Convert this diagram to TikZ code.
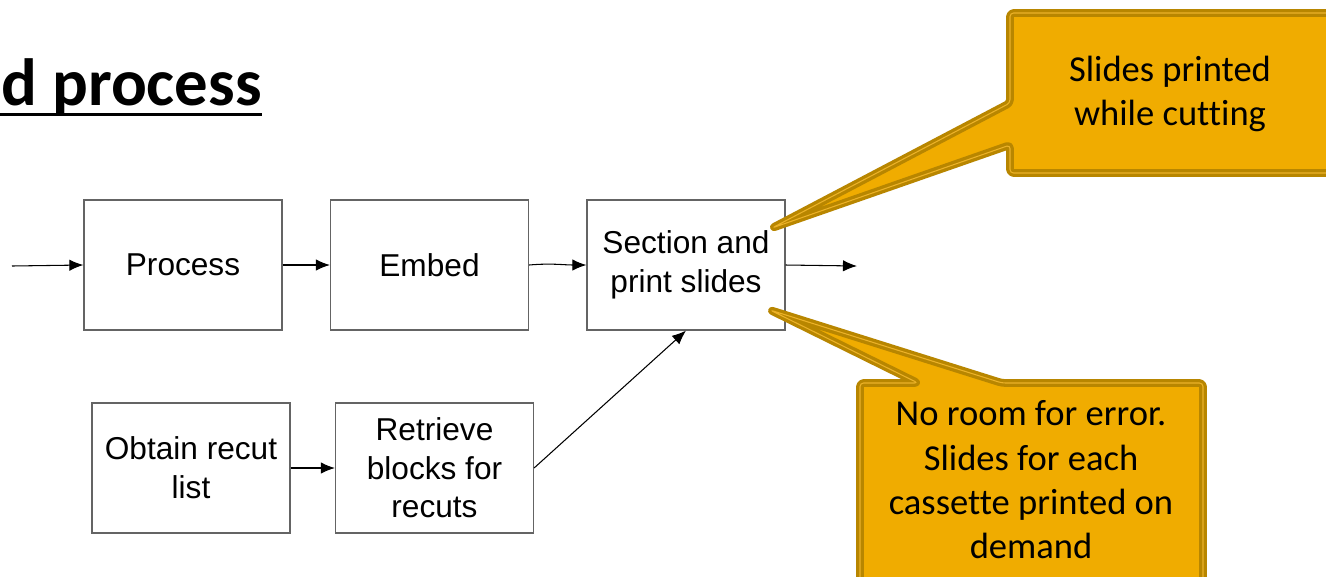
\documentclass[tikz,border=0pt]{standalone}
\usepackage{fontspec}
\setmainfont{Liberation Sans}
\newfontfamily\calib[Ligatures={NoCommon}]{Carlito}
\usetikzlibrary{arrows.meta}
\definecolor{gold}{RGB}{240,172,0}
\definecolor{goldedge}{RGB}{184,134,0}
\definecolor{goldline}{RGB}{236,178,40}
\definecolor{boxedge}{RGB}{100,100,100}

\begin{document}
\begin{tikzpicture}[x=0.02cm,y=-0.02cm,
  stepbox/.style={draw=boxedge, line width=0.7pt, minimum width=3.96cm,
    minimum height=2.6cm, inner sep=0pt, align=center,
    font=\fontsize{18}{22}\selectfont},
  flow/.style={-{Latex[length=8pt,width=6.5pt]}, line width=0.6pt},
  callout/.style={fill=gold, draw=goldedge, double=goldline, line width=1.9pt,
    double distance=0.6pt, line join=round, rounded corners=2pt},
  note/.style={font=\calib\fontsize{20.8}{25.2}\selectfont, align=center}]

\clip (0,0) rectangle (1326,576);
\fill[white] (0,0) rectangle (1326,576);

% heading
\node[anchor=base west, inner sep=0pt,
  font=\calib\bfseries\fontsize{38}{42}\selectfont] (title) at (1,105) {d process};
\draw[line width=1.7pt] (0,114) -- (title.base east |- 0,114);

% process steps
\node[stepbox] (proc) at (183,265) {Process};
\node[stepbox] (emb)  at (429.5,265) {Embed};
\node[stepbox] (sec)  at (686,265) {Section and\\print slides};
\node[stepbox] (obt)  at (191,468) {Obtain recut\\list};
\node[stepbox] (ret)  at (434.5,468) {Retrieve\\blocks for\\recuts};

\coordinate (in)  at (12,266);
\coordinate (out) at (857,266);

% connectors
\draw[flow] (in) -- (proc.west);
\draw[flow] (proc.east) -- (emb.west);
\draw[flow] (emb.east) to[out=5,in=180] (sec.west);
\draw[flow] (sec.east) -- (out);
\draw[flow] (obt.east) -- (ret.west);
\draw[flow] (ret.east) -- (sec.south);

% callouts
\draw[callout] (1010,13) -- (1340,13) -- (1340,173) -- (1010,173)
  -- (1010,145) -- (772,228) -- (1010,103) -- cycle;
\node[note] (c1) at (1170,94) {Slides printed\\while cutting};

\draw[callout] (860,383) -- (918,383) -- (770,310) -- (1002,383)
  -- (1203,383) -- (1203,600) -- (860,600) -- cycle;
\node[note] (c2) at (1031,480) {No room for error.\\Slides for each\\cassette printed on\\demand};
\end{tikzpicture}
\end{document}
